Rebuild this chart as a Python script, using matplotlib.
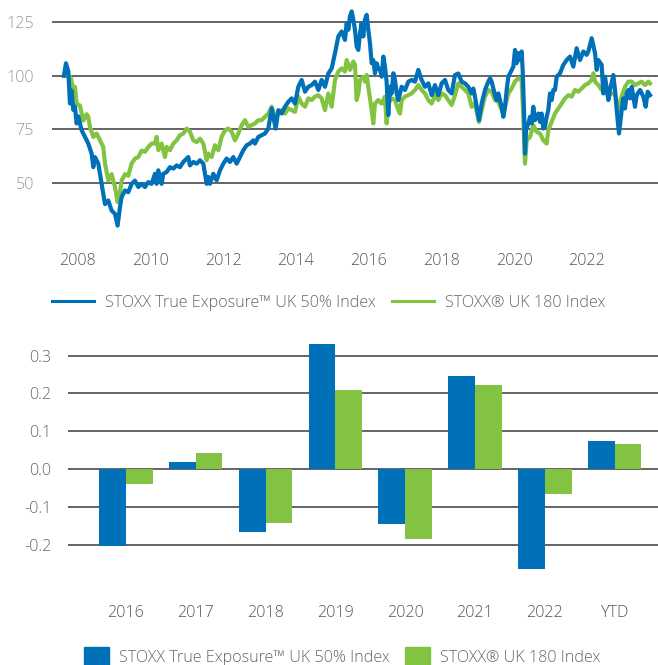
import matplotlib
matplotlib.use("Agg")
import matplotlib.pyplot as plt
from matplotlib.patches import Patch
from matplotlib.lines import Line2D

plt.rcParams['font.family'] = ['Open Sans', 'DejaVu Sans']
plt.rcParams['font.weight'] = 'light'

BLUE = '#0070b8'
GREEN = '#82c341'
GRID = '#4a4a4a'
FS = 11.6

label_blue = 'STOXX True Exposure™ UK 50% Index'
label_green = 'STOXX® UK 180 Index'

# ---- index levels (decimal year, value)
blue_t = [2007.615, 2007.670, 2007.734, 2007.780, 2007.826, 2007.871, 2007.917, 2007.963,
          2008.009, 2008.101, 2008.192, 2008.284, 2008.376, 2008.422, 2008.468, 2008.559,
          2008.651, 2008.697, 2008.743, 2008.835, 2008.926, 2009.018, 2009.091, 2009.156,
          2009.201, 2009.293, 2009.385, 2009.477, 2009.568, 2009.660, 2009.752, 2009.843,
          2009.935, 2010.027,
          2010.119, 2010.165, 2010.211, 2010.257, 2010.302, 2010.348, 2010.440, 2010.532,
          2010.623, 2010.715, 2010.807, 2010.899, 2010.990, 2011.036, 2011.082, 2011.174,
          2011.266, 2011.357, 2011.449, 2011.541, 2011.587, 2011.632, 2011.724, 2011.816,
          2011.908, 2011.999, 2012.091, 2012.183, 2012.274, 2012.366, 2012.458, 2012.550,
          2012.641, 2012.733, 2012.825,
          2012.871, 2012.963, 2013.054, 2013.146, 2013.238, 2013.330, 2013.375, 2013.440,
          2013.513, 2013.605, 2013.696, 2013.788, 2013.880, 2013.972, 2014.063, 2014.155,
          2014.247, 2014.339, 2014.430, 2014.522, 2014.614, 2014.705, 2014.797, 2014.889,
          2014.981, 2015.072, 2015.164, 2015.256, 2015.347, 2015.393, 2015.439, 2015.485,
          2015.531, 2015.577,
          2015.622, 2015.668, 2015.714, 2015.760, 2015.805, 2015.851, 2015.897, 2015.943,
          2015.989, 2016.035, 2016.081, 2016.126, 2016.172, 2016.218, 2016.264, 2016.310,
          2016.356, 2016.402, 2016.447, 2016.493, 2016.539, 2016.585, 2016.631, 2016.677,
          2016.723, 2016.769, 2016.814, 2016.906, 2016.998, 2017.090, 2017.181, 2017.273,
          2017.365, 2017.456, 2017.548, 2017.640, 2017.732, 2017.823, 2017.915, 2018.007,
          2018.098, 2018.190, 2018.282,
          2018.374, 2018.466, 2018.557, 2018.649, 2018.741, 2018.833, 2018.878, 2018.924,
          2018.970, 2019.034, 2019.108, 2019.199, 2019.291, 2019.337, 2019.383, 2019.475,
          2019.521, 2019.566, 2019.658, 2019.704, 2019.750, 2019.796, 2019.842, 2019.933,
          2019.979, 2020.025, 2020.071, 2020.117, 2020.163, 2020.208, 2020.236, 2020.273,
          2020.300, 2020.328, 2020.392, 2020.438, 2020.484, 2020.529, 2020.575, 2020.621,
          2020.667, 2020.713, 2020.759, 2020.805, 2020.850, 2020.896, 2020.942, 2020.988,
          2021.034, 2021.080,
          2021.126, 2021.172, 2021.264, 2021.355, 2021.447, 2021.539, 2021.630, 2021.722,
          2021.814, 2021.906, 2021.997, 2022.043, 2022.135, 2022.227, 2022.273, 2022.318,
          2022.410, 2022.456, 2022.502, 2022.594, 2022.639, 2022.731, 2022.777, 2022.841,
          2022.887, 2022.960, 2023.006, 2023.052, 2023.098, 2023.144, 2023.190, 2023.236,
          2023.327, 2023.373, 2023.465, 2023.557, 2023.621, 2023.676, 2023.740]
blue_v = [100, 105.8, 102, 87, 93, 84, 85.5, 77.7,
          81, 74.5, 71.4, 68.3, 63.6, 57.3, 62, 59,
          49.5, 44.8, 40, 41.7, 37, 35.5, 30, 38.6,
          43.3, 46.4, 45.6, 49.5, 51, 48, 49.5, 48,
          50.3, 49.5,
          54.2, 49.5, 55.8, 52.7, 49.5, 54.2, 55, 57.3,
          56.6, 58.1, 57.3, 59.7, 61.3, 62, 58.1, 59.7,
          58.9, 60.5, 58.9, 49.5, 52.7, 49.5, 54.2, 51.1,
          55.8, 58.9, 61.3, 59.7, 62, 58.9, 62, 65.2,
          67.5, 68.3, 69.8,
          68.3, 71.4, 72.2, 73, 75.3, 84.7, 80.8, 75.3,
          83.9, 82.3, 85.5, 87.8, 89.4, 87, 94.8, 98,
          92.5, 94.8, 95.6, 97.2, 93.3, 98, 94.8, 101,
          103.4, 110.5, 118.3, 120.6, 116.7, 124.5, 121.4, 127.7,
          130, 126.1,
          121.4, 113.6, 112, 119.8, 124.5, 118.3, 126.1, 128.4,
          121.4, 115.2, 105.8, 107.3, 101.1, 105.8, 103.4, 102.7,
          99.5, 108.9, 104.2, 97.2, 81.6, 94.8, 91.7, 101.1,
          98, 91.7, 88.6, 94.8, 93.3, 97.2, 98, 97.2,
          102.7, 98, 94.8, 96.4, 90.9, 95.6, 90.9, 96.4,
          98, 93.3, 91.7,
          100.3, 101, 97.2, 96.4, 94.8, 91.7, 94, 90.2,
          85.5, 79.2, 87, 93.3, 97.2, 98.8, 97.2, 90.9,
          88.6, 91.7, 85.5, 80.8, 85.5, 93.3, 99.5, 102.7,
          104.2, 112, 105.8, 110.5, 107.3, 111.3, 102.7, 83.9,
          63.6, 74.5, 77.7, 80.8, 77.7, 85.5, 79.2, 80.8,
          82.3, 78.4, 82.3, 75.3, 76.1, 80.8, 83.9, 91.7,
          88.6, 93.3,
          93.3, 99.5, 101.1, 105, 107.3, 108.9, 104.2, 112.8,
          107.3, 111.3, 109.7, 111.3, 117.5, 110.5, 102.7, 107.3,
          105, 91.7, 99.5, 88.6, 93.3, 100.3, 93.3, 80.8,
          73, 83.9, 89.4, 84.7, 91.7, 93.3, 89.4, 94.8,
          85.5, 90.9, 93.3, 90.2, 85.5, 92.5, 90.9]

green_t = [2007.615, 2007.734, 2007.807, 2007.871, 2007.917, 2007.963, 2008.055, 2008.147,
           2008.238, 2008.284, 2008.330, 2008.422, 2008.513, 2008.605, 2008.697, 2008.743,
           2008.835, 2008.926, 2009.018, 2009.091, 2009.156, 2009.201, 2009.293, 2009.385,
           2009.477, 2009.568, 2009.660, 2009.752, 2009.843, 2009.935, 2010.027,
           2010.119, 2010.165, 2010.211, 2010.302, 2010.394, 2010.440, 2010.532, 2010.623,
           2010.715, 2010.807, 2010.899, 2010.990, 2011.082, 2011.174, 2011.266, 2011.357,
           2011.449, 2011.541, 2011.587, 2011.678, 2011.770, 2011.862, 2011.953, 2012.045,
           2012.137, 2012.229, 2012.320, 2012.412, 2012.504, 2012.595, 2012.687, 2012.779,
           2012.871, 2012.963, 2013.054, 2013.146, 2013.238, 2013.330, 2013.421, 2013.513,
           2013.605, 2013.696, 2013.788, 2013.880, 2013.972, 2014.063, 2014.155, 2014.247,
           2014.339, 2014.430, 2014.522, 2014.614, 2014.705, 2014.797, 2014.889, 2014.981,
           2015.072, 2015.164, 2015.256, 2015.347, 2015.393, 2015.485, 2015.577,
           2015.622, 2015.668, 2015.714, 2015.760, 2015.851, 2015.897, 2015.943, 2015.989,
           2016.035, 2016.081, 2016.126, 2016.172, 2016.264, 2016.356, 2016.447, 2016.493,
           2016.539, 2016.631, 2016.723, 2016.814, 2016.860, 2016.906, 2016.998, 2017.090,
           2017.181, 2017.273, 2017.365, 2017.456, 2017.548, 2017.640, 2017.732, 2017.823,
           2017.915, 2018.007, 2018.098, 2018.190, 2018.282,
           2018.374, 2018.466, 2018.557, 2018.649, 2018.741, 2018.833, 2018.924, 2019.034,
           2019.108, 2019.199, 2019.291, 2019.383, 2019.475, 2019.566, 2019.658, 2019.704,
           2019.750, 2019.842, 2019.933, 2020.025, 2020.117, 2020.208, 2020.254, 2020.300,
           2020.346, 2020.438, 2020.529, 2020.621, 2020.713, 2020.805, 2020.896, 2020.942,
           2021.034,
           2021.126, 2021.218, 2021.309, 2021.401, 2021.493, 2021.585, 2021.676, 2021.768,
           2021.860, 2021.952, 2022.043, 2022.135, 2022.181, 2022.227, 2022.318, 2022.410,
           2022.502, 2022.594, 2022.685, 2022.777, 2022.869, 2022.960, 2023.052, 2023.144,
           2023.236, 2023.327, 2023.419, 2023.511, 2023.602, 2023.694, 2023.740]
green_v = [100, 100, 98.8, 93, 94.8, 87, 86, 79,
           82, 80.8, 76, 71.4, 73, 69.8, 66.7, 59,
           51, 54, 48, 41, 45.6, 51, 54, 53.3,
           59, 61.3, 62, 65, 64.4, 66.7, 68.3,
           68.3, 71.4, 65.2, 68.3, 62, 66.7, 65.2, 68.3,
           69.8, 72.2, 73, 75.3, 73.8, 69.8, 69, 70.6,
           68.3, 60.5, 63.6, 62, 67.5, 65.2, 71.4, 74.5,
           75.3, 73.8, 69.8, 73, 76.9, 79.2, 76.1, 76.9,
           77.7, 79.2, 79.2, 80.8, 82.3, 85.5, 80.8, 82.3,
           83.9, 82.3, 84.7, 83.9, 83.1, 90.2, 87, 85.5,
           89.4, 88.6, 90.2, 90.9, 89.4, 83.9, 91.7, 85.5,
           98, 101.9, 103.4, 101.9, 107.3, 102.7, 106.6,
           105, 88.6, 91.7, 98, 99.5, 97.2, 100.3, 94.8,
           89.4, 83.9, 77.7, 87, 88.6, 87, 90.2, 77.7,
           87, 89.4, 88.6, 83.9, 82.3, 88.6, 90.2, 90.9,
           91.7, 93.3, 95.6, 93.3, 91.7, 88.6, 87, 90.9,
           88.6, 91.7, 90.9, 88.6, 86.3,
           90.9, 96.4, 94.8, 93.3, 91.7, 85.5, 87, 78.4,
           83.9, 90.2, 93.3, 92.5, 88.6, 87.8, 83.9, 82.3,
           85.5, 91.7, 94, 97.2, 98.8, 98, 80.8, 58.9,
           69.8, 71.4, 76.9, 73.8, 73, 69.8, 68.3, 74.5,
           78.4,
           82.3, 84.7, 87, 89.4, 90.9, 90.2, 93.3, 92.5,
           94, 95.6, 96.4, 98, 101.1, 97.2, 95.6, 93.3,
           94.8, 90.2, 91.7, 91.7, 83.9, 90.2, 94.8, 97.2,
           97.2, 95.6, 96.4, 97.2, 95.6, 97.2, 96.4]

line_years = [2008, 2010, 2012, 2014, 2016, 2018, 2020, 2022]
line_yticks = [50, 75, 100, 125]

# ---- yearly returns
bar_cats = ['2016', '2017', '2018', '2019', '2020', '2021', '2022', 'YTD']
bar_blue = [-0.203, 0.018, -0.168, 0.331, -0.145, 0.246, -0.266, 0.074]
bar_green = [-0.039, 0.042, -0.142, 0.209, -0.185, 0.222, -0.065, 0.066]
bar_yticks = [-0.2, -0.1, 0.0, 0.1, 0.2, 0.3]

fig = plt.figure(figsize=(6.58, 6.65), dpi=100)

# top: index levels
ax1 = fig.add_axes([0.079, 0.6466, 0.921, 0.3414])
ax1.plot(green_t, green_v, color=GREEN, lw=3.0, solid_joinstyle='round')
ax1.plot(blue_t, blue_v, color=BLUE, lw=3.0, solid_joinstyle='round')
ax1.set_xlim(2007.285, 2023.96)
ax1.set_ylim(25.6, 131.6)
ax1.set_xticks(line_years)
ax1.set_xticklabels([str(y) for y in line_years])
ax1.set_yticks(line_yticks)
ax1.set_yticklabels([str(v) for v in line_yticks])
ax1.grid(axis='y', color=GRID, lw=1.2)
ax1.set_axisbelow(True)
ax1.tick_params(axis='x', length=0, pad=13, labelsize=FS, labelcolor='#555555')
ax1.tick_params(axis='y', length=0, pad=13, labelsize=FS, labelcolor='#999999')
for s in ax1.spines.values():
    s.set_visible(False)

fig.legend(handles=[Line2D([], [], color=BLUE, lw=2.2), Line2D([], [], color=GREEN, lw=2.2)],
           labels=[label_blue, label_green], loc='center', bbox_to_anchor=(0.5, 1 - 303 / 665),
           ncol=2, frameon=False, fontsize=FS, labelcolor='#666666',
           handlelength=2.6, handletextpad=0.7, columnspacing=1.0)

# bottom: yearly returns
ax2 = fig.add_axes([0.1033, 0.1278, 0.8967, 0.3609])
x = range(len(bar_cats))
w = 0.383
ax2.bar([i - w / 2 for i in x], bar_blue, width=w, color=BLUE, zorder=3)
ax2.bar([i + w / 2 for i in x], bar_green, width=w, color=GREEN, zorder=3)
ax2.set_xlim(-0.83, 7.62)
ax2.set_ylim(-0.294, 0.3415)
ax2.set_xticks(list(x))
ax2.set_xticklabels(bar_cats)
ax2.set_yticks(bar_yticks)
ax2.set_yticklabels(['%.1f' % v for v in bar_yticks])
ax2.grid(axis='y', color=GRID, lw=1.2, zorder=0)
ax2.set_axisbelow(True)
ax2.tick_params(axis='x', length=0, pad=18, labelsize=FS, labelcolor='#555555')
ax2.tick_params(axis='y', length=0, pad=12, labelsize=FS, labelcolor='#666666')
for s in ax2.spines.values():
    s.set_visible(False)

fig.legend(handles=[Patch(color=BLUE), Patch(color=GREEN)],
           labels=[label_blue, label_green], loc='center', bbox_to_anchor=(0.52, 1 - 657 / 665),
           ncol=2, frameon=False, fontsize=FS, labelcolor='#666666',
           handlelength=1.55, handleheight=1.55, handletextpad=0.6, columnspacing=1.0)

fig.savefig('out.png', dpi=100)
